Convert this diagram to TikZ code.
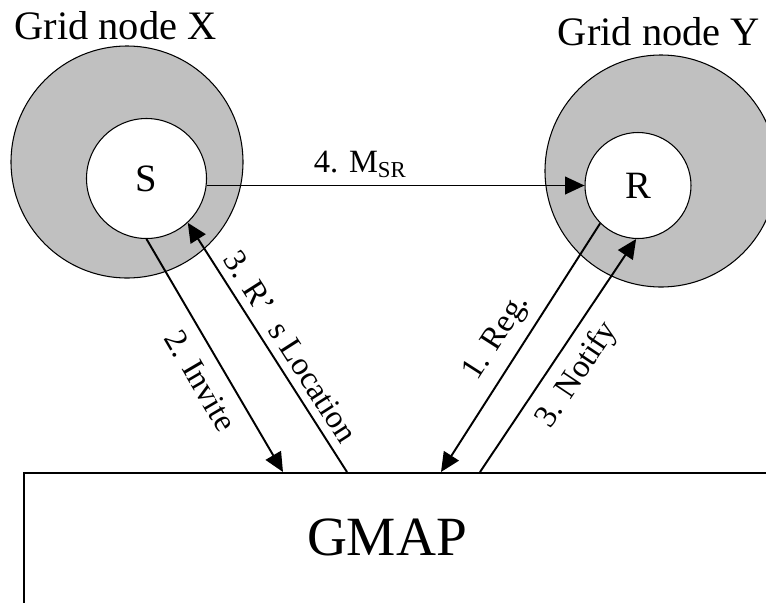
\documentclass[tikz,border=0pt]{standalone}
\usepackage{fontspec}
\setmainfont{Liberation Serif}
\usepackage{xcolor}
\usetikzlibrary{arrows.meta,positioning,calc}
\definecolor{gridGray}{RGB}{192,192,192}
\newcommand{\bigfont}{\fontsize{23}{27}\selectfont}
\newcommand{\msgfont}{\fontsize{18.5}{22}\selectfont}

\begin{document}
\begin{tikzpicture}[
  >={Triangle[length=11pt,width=10pt]},
  ring/.style={circle,draw,line width=0.6pt,fill=gridGray,
               minimum size=4.64cm,inner sep=0pt},
  core/.style={circle,draw,line width=0.6pt,fill=white,
               minimum size=#1,inner sep=0pt,font=\fontsize{22}{26}\selectfont},
  msg/.style={->,line width=1.1pt},
  lbl/.style={font=\msgfont,inner sep=1pt}
]
\useasboundingbox (0,0) rectangle (15.32,-12.06);
\clip (0,0) rectangle (15.32,-12.06);

% Grid nodes with the sender and receiver inside
\node[ring] (ringX) at (2.54,-3.24) {};
\node[core=2.40cm] (S) at (2.93,-3.57) {S};
\node[ring] (ringY) at (13.22,-3.42) {};
\node[core=2.12cm] (R) at (12.76,-3.71) {R};

\node[font=\bigfont,anchor=base] (gridX) at (2.31,-0.78) {Grid node X};
\node[font=\bigfont,anchor=base] (gridY) at (13.18,-0.90) {Grid node Y};

% GMAP box, runs off the page
\node[rectangle,draw,line width=1.1pt,anchor=north west,
      minimum width=16cm,minimum height=4cm] (gmap) at (0.46,-9.44) {};
\node[font=\fontsize{31.5}{36}\selectfont] (gmapText) at (7.74,-10.74) {GMAP};

% Messages
\draw[msg] (R.-135) -- node[lbl,sloped,pos=0.514,above=4.5pt] (reg) {1. Reg.}
  ($(gmap.north west)+(8.36,0)$);
\draw[msg] (S.-90) -- node[lbl,sloped,pos=0.554,below=6.5pt] (invite) {2. Invite}
  ($(gmap.north west)+(5.20,0)$);
\draw[msg] ($(gmap.north west)+(6.48,0)$) -- node[lbl,sloped,pos=0.46,above=3.5pt] (loc)
  {3. R’~~s Location} (S.-47);
\draw[msg] ($(gmap.north west)+(9.14,0)$) -- node[lbl,sloped,pos=0.48,below=5.5pt] (notify)
  {3. Notify} (R.-92);
\draw[msg] (S.east |- R.west) -- node[lbl,pos=0.406,above=3pt] (msr)
  {4. M\textsubscript{SR}} (R.west);
\end{tikzpicture}
\end{document}
